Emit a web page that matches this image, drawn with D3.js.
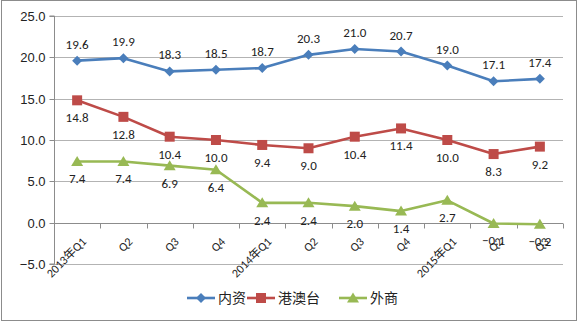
<!DOCTYPE html>
<html><head><meta charset="utf-8">
<script src="https://cdn.jsdelivr.net/npm/d3@7/dist/d3.min.js"></script>
<style>
html,body{margin:0;padding:0;background:#fff;}
svg{display:block;font-family:Carlito,"Liberation Sans","Noto Sans CJK SC",sans-serif;}
</style></head>
<body>
<svg id="chart" width="578" height="322"></svg>
<script>
const categories = ["2013年Q1","Q2","Q3","Q4","2014年Q1","Q2","Q3","Q4","2015年Q1","Q2","Q3"];
const domestic = [19.6,19.9,18.3,18.5,18.7,20.3,21.0,20.7,19.0,17.1,17.4];
const hkMacauTw = [14.8,12.8,10.4,10.0,9.4,9.0,10.4,11.4,10.0,8.3,9.2];
const foreign = [7.4,7.4,6.9,6.4,2.4,2.4,2.0,1.4,2.7,-0.1,-0.2];
const yTicks = [-5,0,5,10,15,20,25];
const seriesNames = ["内资","港澳台","外商"];

const svg = d3.select("#chart");
const W = 578, H = 322;
const m = {left:54, right:15, top:16, bottom:58};

// outer frame
svg.append("rect").attr("x",1.5).attr("y",0.5).attr("width",W-3).attr("height",H-2)
  .attr("fill","#fff").attr("stroke","#8c8c8c").attr("stroke-width",1);

const x = d3.scaleBand().domain(d3.range(categories.length))
  .range([m.left, W - m.right]).paddingInner(0).paddingOuter(0);
const y = d3.scaleLinear().domain([-5,25]).range([264,16]);

// gridlines
svg.append("g").selectAll("line").data(yTicks).join("line")
  .attr("x1",m.left).attr("x2",W-m.right)
  .attr("y1",d=>Math.round(y(d))+0.5).attr("y2",d=>Math.round(y(d))+0.5)
  .attr("stroke","#b3b3b3").attr("stroke-width",1);

// y axis
const yAxis = d3.axisLeft(y).tickValues(yTicks).tickFormat(d3.format(".1f")).tickSize(5).tickPadding(4);
const gy = svg.append("g").attr("transform",`translate(${m.left+0.5},0)`).call(yAxis);
gy.select(".domain").attr("stroke","#8c8c8c").attr("d",`M-5,${y(25)}H0V${y(-5)}H-5`);
gy.selectAll(".tick line").attr("stroke","#8c8c8c");
gy.selectAll(".tick text").attr("font-size",13).attr("fill","#222");
gy.selectAll(".tick").attr("transform",d=>`translate(0,${Math.round(y(d))+0.5})`);

// x axis at zero with ticks at category boundaries
const y0 = Math.round(y(0))+0.5;
const bounds = d3.range(categories.length+1).map(i=>m.left + i*x.bandwidth());
svg.append("g").selectAll("line").data(bounds).join("line")
  .attr("x1",d=>Math.round(d)+0.5).attr("x2",d=>Math.round(d)+0.5)
  .attr("y1",y0).attr("y2",y0+5).attr("stroke","#8c8c8c");
svg.append("line").attr("x1",m.left).attr("x2",W-m.right).attr("y1",y0).attr("y2",y0).attr("stroke","#8c8c8c");

const cx = i => x(i) + x.bandwidth()/2;

svg.append("g").selectAll("text").data(categories).join("text")
  .attr("transform",(d,i)=>`translate(${cx(i)+7},${y0+16}) rotate(-45)`)
  .attr("text-anchor","end").attr("dy","0.35em")
  .attr("font-size",12).attr("fill","#222").text(d=>d);

const colors = ["#4a7ebb","#be4b48","#98b954"];
const data = [domestic, hkMacauTw, foreign];
const line = d3.line().x((d,i)=>cx(i)).y(d=>y(d));

function marker(g, k, px, py){
  if(k===0){
    g.append("path").attr("d",`M${px},${py-5}L${px+5},${py}L${px},${py+5}L${px-5},${py}Z`).attr("fill",colors[0]);
  } else if(k===1){
    g.append("rect").attr("x",px-5).attr("y",py-5).attr("width",10).attr("height",10).attr("fill",colors[1]);
  } else {
    g.append("path").attr("d",`M${px},${py-5.5}L${px+6},${py+4.5}L${px-6},${py+4.5}Z`).attr("fill",colors[2]);
  }
}

data.forEach((vals,k)=>{
  svg.append("path").datum(vals).attr("d",line).attr("fill","none")
    .attr("stroke",colors[k]).attr("stroke-width",2.6).attr("stroke-linejoin","round");
  const g = svg.append("g");
  vals.forEach((v,i)=>marker(g,k,cx(i),y(v)));
  svg.append("g").selectAll("text").data(vals).join("text")
    .attr("x",(d,i)=>cx(i)).attr("y",d=> k===0 ? y(d)-12 : y(d)+22)
    .attr("text-anchor","middle").attr("font-size",13).attr("fill","#222")
    .text(d=>d3.format(".1f")(d));
});

// legend
const legendItems = [
  {name:seriesNames[0], x0:187},
  {name:seriesNames[1], x0:247},
  {name:seriesNames[2], x0:339}
];
const ly = 298;
legendItems.forEach((it,k)=>{
  const g = svg.append("g");
  g.append("line").attr("x1",it.x0).attr("x2",it.x0+28).attr("y1",ly).attr("y2",ly)
    .attr("stroke",colors[k]).attr("stroke-width",2.6);
  marker(g,k,it.x0+14,ly);
  g.append("text").attr("x",it.x0+31).attr("y",ly).attr("dy","0.36em")
    .attr("font-size",14).attr("fill","#222")
    .attr("font-family","'Noto Sans CJK SC',sans-serif").text(it.name);
});
</script>
</body></html>
